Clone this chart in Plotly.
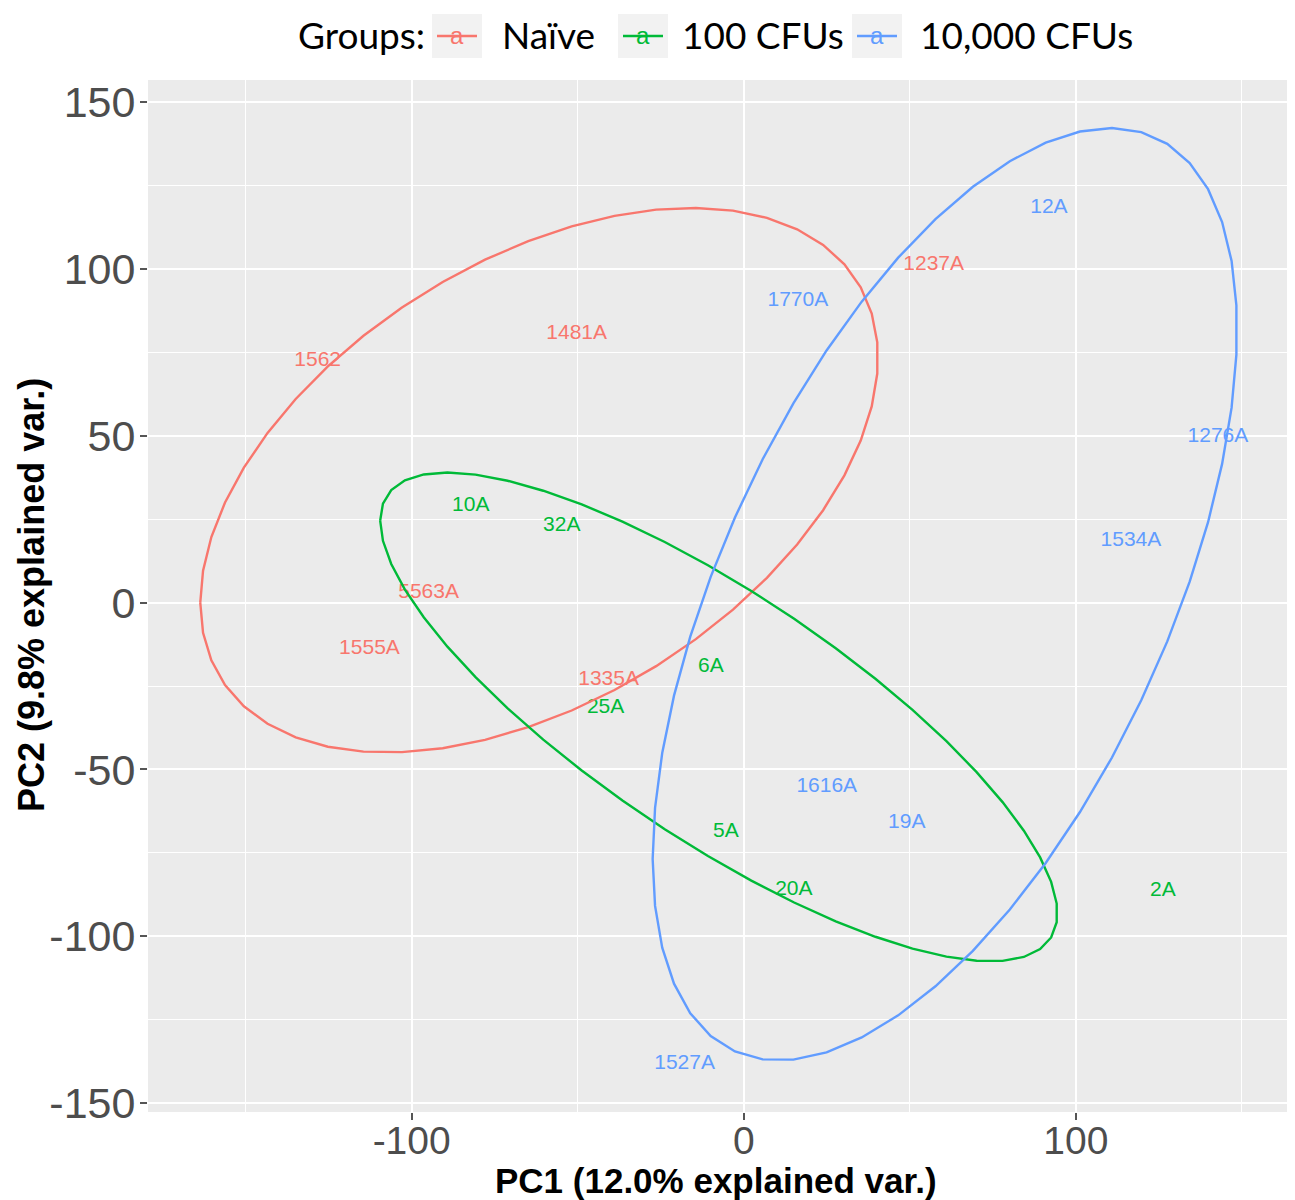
import numpy as np
import plotly.graph_objects as go

# ---- data (PC scores) ----
groups = ["Naïve", "100 CFUs", "10,000 CFUs"]
colors = ["#F8766D", "#00BA38", "#619CFF"]

naive_labels = ["1562", "1481A", "1237A", "5563A", "1555A", "1335A"]
naive_pc1 = [-128.3, -50.3, 57.2, -94.9, -112.7, -40.7]
naive_pc2 = [72.5, 80.5, 101.2, 3.0, -13.8, -23.1]

cfu100_labels = ["10A", "32A", "6A", "25A", "5A", "20A", "2A"]
cfu100_pc1 = [-82.2, -54.8, -9.9, -41.6, -5.4, 15.1, 126.2]
cfu100_pc2 = [29.0, 23.1, -19.2, -31.4, -68.6, -86.2, -86.5]

cfu10k_labels = ["12A", "1770A", "1276A", "1534A", "1616A", "19A", "1527A"]
cfu10k_pc1 = [91.9, 16.3, 142.8, 116.6, 25.0, 49.1, -17.8]
cfu10k_pc2 = [118.3, 90.4, 49.7, 18.6, -55.1, -65.9, -138.3]

x_ticks = [-100, 0, 100]
x_ticktext = ["-100", "0", "100"]
y_ticks = [150, 100, 50, 0, -50, -100, -150]
y_ticktext = ["150", "100", "50", "0", "-50", "-100", "-150"]

ellipse_prob = 0.68

group_data = [
    (naive_labels, naive_pc1, naive_pc2),
    (cfu100_labels, cfu100_pc1, cfu100_pc2),
    (cfu10k_labels, cfu10k_pc1, cfu10k_pc2),
]


def normal_ellipse(xs, ys, prob=0.68, n=50):
    xs = np.asarray(xs, float)
    ys = np.asarray(ys, float)
    sigma = np.cov(xs, ys)
    mu = np.array([xs.mean(), ys.mean()])
    ed = np.sqrt(-2.0 * np.log(1.0 - prob))  # sqrt(qchisq(prob, 2))
    theta = np.linspace(-np.pi, np.pi, n)
    circle = np.column_stack([np.cos(theta), np.sin(theta)])
    R = np.linalg.cholesky(sigma).T
    pts = circle @ R * ed + mu
    return pts[:, 0], pts[:, 1]


fig = go.Figure()

label_font = "Liberation Sans, Arial, sans-serif"

for (labs, xs, ys), col, name in zip(group_data, colors, groups):
    fig.add_trace(go.Scatter(
        x=xs, y=ys, mode="text", text=labs,
        textfont=dict(family=label_font, size=21, color=col),
        textposition="middle center", showlegend=False, name=name,
        hoverinfo="text",
    ))

for (labs, xs, ys), col, name in zip(group_data, colors, groups):
    ex, ey = normal_ellipse(xs, ys, ellipse_prob)
    fig.add_trace(go.Scatter(
        x=ex, y=ey, mode="lines", line=dict(color=col, width=2.4),
        showlegend=False, name=name, hoverinfo="skip",
    ))

# ---- layout geometry (page body margin removed via post_script) ----
W, H = 1295, 1200
L, R_, T, B = 148, 1287, 80, 1112


def xp(px):
    return (px - L) / (R_ - L)


def yp(py):
    return (B - py) / (B - T)


sans = "Liberation Sans, Arial, sans-serif"

fig.update_layout(
    width=W, height=H,
    margin=dict(l=L, r=W - R_, t=T, b=H - B, autoexpand=False),
    paper_bgcolor="white",
    plot_bgcolor="#EBEBEB",
    showlegend=False,
    xaxis=dict(
        range=[-179.4, 163.6], tickvals=x_ticks, ticktext=x_ticktext,
        showgrid=True, gridcolor="white", gridwidth=2.2,
        zeroline=False, showline=False, automargin=False,
        ticks="outside", ticklen=7, tickwidth=1.5, tickcolor="#555555",
        tickfont=dict(family=sans, size=39, color="#4D4D4D"),
        ticklabelstandoff=-13,
        minor=dict(tickvals=[-150, -50, 50, 150], showgrid=True,
                   gridcolor="white", gridwidth=1.1, ticks=""),
        fixedrange=True,
    ),
    yaxis=dict(
        range=[-152.7, 156.7], tickvals=y_ticks, ticktext=y_ticktext,
        showgrid=True, gridcolor="white", gridwidth=2.2,
        zeroline=False, showline=False, automargin=False,
        ticks="outside", ticklen=7, tickwidth=1.5, tickcolor="#555555",
        tickfont=dict(family=sans, size=43, color="#4D4D4D"),
        ticklabelstandoff=-4,
        minor=dict(tickvals=[125, 75, 25, -25, -75, -125], showgrid=True,
                   gridcolor="white", gridwidth=1.1, ticks=""),
        fixedrange=True,
    ),
)

annotations = []
shapes = []

# axis titles
annotations.append(dict(
    text="<b>PC1 (12.0% explained var.)</b>", xref="paper", yref="paper",
    x=xp(716), y=yp(1180), xanchor="center", yanchor="middle", showarrow=False,
    font=dict(family=sans, size=35, color="black"),
))
annotations.append(dict(
    text="<b>PC2 (9.8% explained var.)</b>", xref="paper", yref="paper",
    x=xp(31), y=yp(595), xanchor="center", yanchor="middle", showarrow=False,
    textangle=-90,
    font=dict(family=sans, size=36, color="black"),
))

# legend (top)
leg_font = "Lato, Open Sans, sans-serif"
leg_y = 35
annotations.append(dict(
    text="Groups:", xref="paper", yref="paper", x=xp(296), y=yp(leg_y),
    xanchor="left", yanchor="middle", showarrow=False,
    font=dict(family=leg_font, size=37, color="black"),
))
key_boxes = [(432, 482), (618, 668), (852, 902)]
label_x = [500, 680, 918]
for (bx0, bx1), lx, col, name in zip(key_boxes, label_x, colors, groups):
    shapes.append(dict(
        type="rect", xref="paper", yref="paper",
        x0=xp(bx0), x1=xp(bx1), y0=yp(14), y1=yp(58),
        fillcolor="#F2F2F2", line=dict(width=0), layer="above",
    ))
    shapes.append(dict(
        type="line", xref="paper", yref="paper",
        x0=xp(bx0 + 5), x1=xp(bx1 - 5), y0=yp(36), y1=yp(36),
        line=dict(color=col, width=2.4), layer="above",
    ))
    annotations.append(dict(
        text="a", xref="paper", yref="paper", x=xp((bx0 + bx1) / 2), y=yp(36),
        xanchor="center", yanchor="middle", showarrow=False,
        font=dict(family=label_font, size=24, color=col),
    ))
    annotations.append(dict(
        text=name, xref="paper", yref="paper", x=xp(lx), y=yp(leg_y),
        xanchor="left", yanchor="middle", showarrow=False,
        font=dict(family=leg_font, size=37, color="black"),
    ))

fig.update_layout(annotations=annotations, shapes=shapes)

fig.write_html(
    "out.html",
    config={"displayModeBar": False},
    post_script="document.body.style.margin='0';document.body.style.overflow='hidden';",
)
